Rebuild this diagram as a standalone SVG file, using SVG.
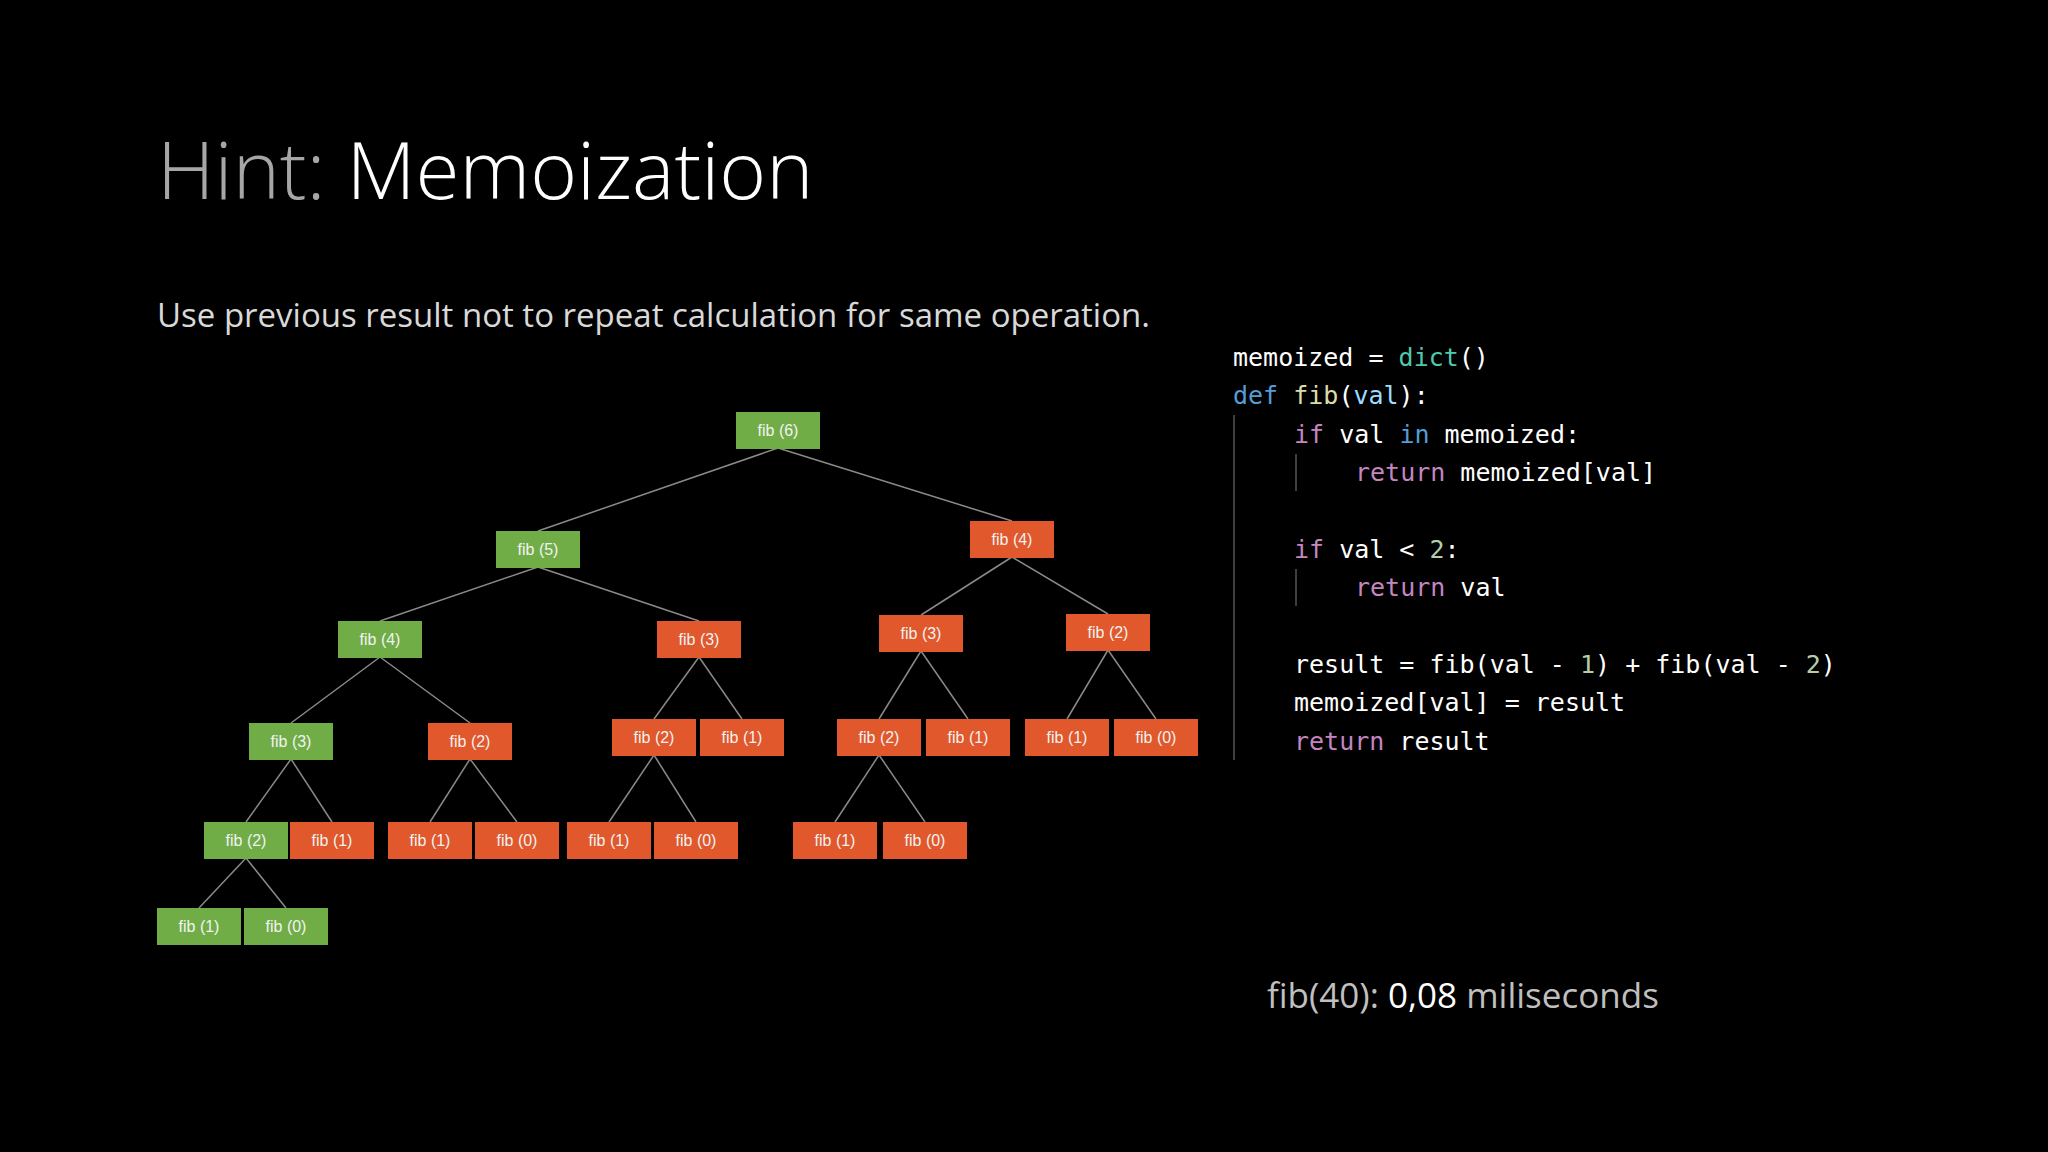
<svg xmlns="http://www.w3.org/2000/svg" width="2048" height="1152" viewBox="0 0 2048 1152">
<style>
.g{fill:#70ad47}.r{fill:#e0582b}
.n text{font-family:"Liberation Sans Narrow","Liberation Sans",sans-serif;font-size:16px;fill:#f2f2f2;text-anchor:middle;dominant-baseline:central}
.e line{stroke:#8a8a8a;stroke-width:1.5}
.c{font-family:"DejaVu Sans Mono",monospace;font-size:25px;fill:#ffffff}
.kw{fill:#c586c0}.bl{fill:#569cd6}.tl{fill:#4ec9b0}.fn{fill:#dcdcaa}.pm{fill:#9cdcfe}.nm{fill:#b5cea8}
</style>
<rect width="2048" height="1152" fill="#000"/>
<text x="157" y="199" font-family="'Open Sans','Liberation Sans',sans-serif" font-weight="300" font-size="80" fill="#a6a6a6">Hint: <tspan fill="#fff">Memoization</tspan></text>
<text x="157" y="327" font-family="'Open Sans','Liberation Sans',sans-serif" font-size="33" fill="#d9d9d9">Use previous result not to repeat calculation for same operation.</text>
<g class="e" id="connectors">
<line x1="778" y1="448" x2="538" y2="531"/><line x1="778" y1="448" x2="1012" y2="521"/>
<line x1="538" y1="567" x2="380" y2="621"/><line x1="538" y1="567" x2="699" y2="621"/>
<line x1="1012" y1="557" x2="921" y2="615"/><line x1="1012" y1="557" x2="1108" y2="614"/>
<line x1="380" y1="657" x2="291" y2="723"/><line x1="380" y1="657" x2="470" y2="723"/>
<line x1="699" y1="657" x2="654" y2="719"/><line x1="699" y1="657" x2="742" y2="719"/>
<line x1="921" y1="651" x2="879" y2="719"/><line x1="921" y1="651" x2="968" y2="719"/>
<line x1="1108" y1="650" x2="1067" y2="719"/><line x1="1108" y1="650" x2="1156" y2="719"/>
<line x1="291" y1="759" x2="246" y2="822"/><line x1="291" y1="759" x2="332" y2="822"/>
<line x1="470" y1="759" x2="430" y2="822"/><line x1="470" y1="759" x2="517" y2="822"/>
<line x1="654" y1="755" x2="609" y2="822"/><line x1="654" y1="755" x2="696" y2="822"/>
<line x1="879" y1="755" x2="835" y2="822"/><line x1="879" y1="755" x2="925" y2="822"/>
<line x1="246" y1="858" x2="199" y2="908"/><line x1="246" y1="858" x2="286" y2="908"/>
</g>
<g class="n">
<g id="n6"><rect class="g" x="736" y="412" width="84" height="37"/><text x="778" y="430">fib (6)</text></g>
<g id="n5"><rect class="g" x="496" y="531" width="84" height="37"/><text x="538" y="549">fib (5)</text></g>
<g id="n4r"><rect class="r" x="970" y="521" width="84" height="37"/><text x="1012" y="539">fib (4)</text></g>
<g id="n4g"><rect class="g" x="338" y="621" width="84" height="37"/><text x="380" y="639">fib (4)</text></g>
<g id="n3a"><rect class="r" x="657" y="621" width="84" height="37"/><text x="699" y="639">fib (3)</text></g>
<g id="n3b"><rect class="r" x="879" y="615" width="84" height="37"/><text x="921" y="633">fib (3)</text></g>
<g id="n2a"><rect class="r" x="1066" y="614" width="84" height="37"/><text x="1108" y="632">fib (2)</text></g>
<g id="n3g"><rect class="g" x="249" y="723" width="84" height="37"/><text x="291" y="741">fib (3)</text></g>
<g id="n2b"><rect class="r" x="428" y="723" width="84" height="37"/><text x="470" y="741">fib (2)</text></g>
<g id="n2c"><rect class="r" x="612" y="719" width="84" height="37"/><text x="654" y="737">fib (2)</text></g>
<g id="n1a"><rect class="r" x="700" y="719" width="84" height="37"/><text x="742" y="737">fib (1)</text></g>
<g id="n2d"><rect class="r" x="837" y="719" width="84" height="37"/><text x="879" y="737">fib (2)</text></g>
<g id="n1b"><rect class="r" x="926" y="719" width="84" height="37"/><text x="968" y="737">fib (1)</text></g>
<g id="n1c"><rect class="r" x="1025" y="719" width="84" height="37"/><text x="1067" y="737">fib (1)</text></g>
<g id="n0a"><rect class="r" x="1114" y="719" width="84" height="37"/><text x="1156" y="737">fib (0)</text></g>
<g id="n2g"><rect class="g" x="204" y="822" width="84" height="37"/><text x="246" y="840">fib (2)</text></g>
<g id="n1d"><rect class="r" x="290" y="822" width="84" height="37"/><text x="332" y="840">fib (1)</text></g>
<g id="n1e"><rect class="r" x="388" y="822" width="84" height="37"/><text x="430" y="840">fib (1)</text></g>
<g id="n0b"><rect class="r" x="475" y="822" width="84" height="37"/><text x="517" y="840">fib (0)</text></g>
<g id="n1f"><rect class="r" x="567" y="822" width="84" height="37"/><text x="609" y="840">fib (1)</text></g>
<g id="n0c"><rect class="r" x="654" y="822" width="84" height="37"/><text x="696" y="840">fib (0)</text></g>
<g id="n1g"><rect class="r" x="793" y="822" width="84" height="37"/><text x="835" y="840">fib (1)</text></g>
<g id="n0d"><rect class="r" x="883" y="822" width="84" height="37"/><text x="925" y="840">fib (0)</text></g>
<g id="n1h"><rect class="g" x="157" y="908" width="84" height="37"/><text x="199" y="926">fib (1)</text></g>
<g id="n0g"><rect class="g" x="244" y="908" width="84" height="37"/><text x="286" y="926">fib (0)</text></g>
</g>
<g stroke="#555" stroke-width="1.5">
<line x1="1234" y1="415" x2="1234" y2="760"/>
<line x1="1296" y1="454" x2="1296" y2="491"/>
<line x1="1296" y1="569" x2="1296" y2="606"/>
</g>
<g class="c" xml:space="preserve">
<text x="1233" y="366">memoized = <tspan class="tl">dict</tspan>()</text>
<text x="1233" y="404"><tspan class="bl">def</tspan> <tspan class="fn">fib</tspan>(<tspan class="pm">val</tspan>):</text>
<text x="1294" y="443"><tspan class="kw">if</tspan> val <tspan class="bl">in</tspan> memoized:</text>
<text x="1355" y="481"><tspan class="kw">return</tspan> memoized[val]</text>
<text x="1294" y="558"><tspan class="kw">if</tspan> val &lt; <tspan class="nm">2</tspan>:</text>
<text x="1355" y="596"><tspan class="kw">return</tspan> val</text>
<text x="1294" y="673">result = fib(val - <tspan class="nm">1</tspan>) + fib(val - <tspan class="nm">2</tspan>)</text>
<text x="1294" y="711">memoized[val] = result</text>
<text x="1294" y="750"><tspan class="kw">return</tspan> result</text>
</g>
<text x="1267" y="1008" font-family="'Open Sans','Liberation Sans',sans-serif" font-size="35" fill="#bfbfbf">fib(40): <tspan fill="#fff">0,08</tspan> miliseconds</text>
</svg>
